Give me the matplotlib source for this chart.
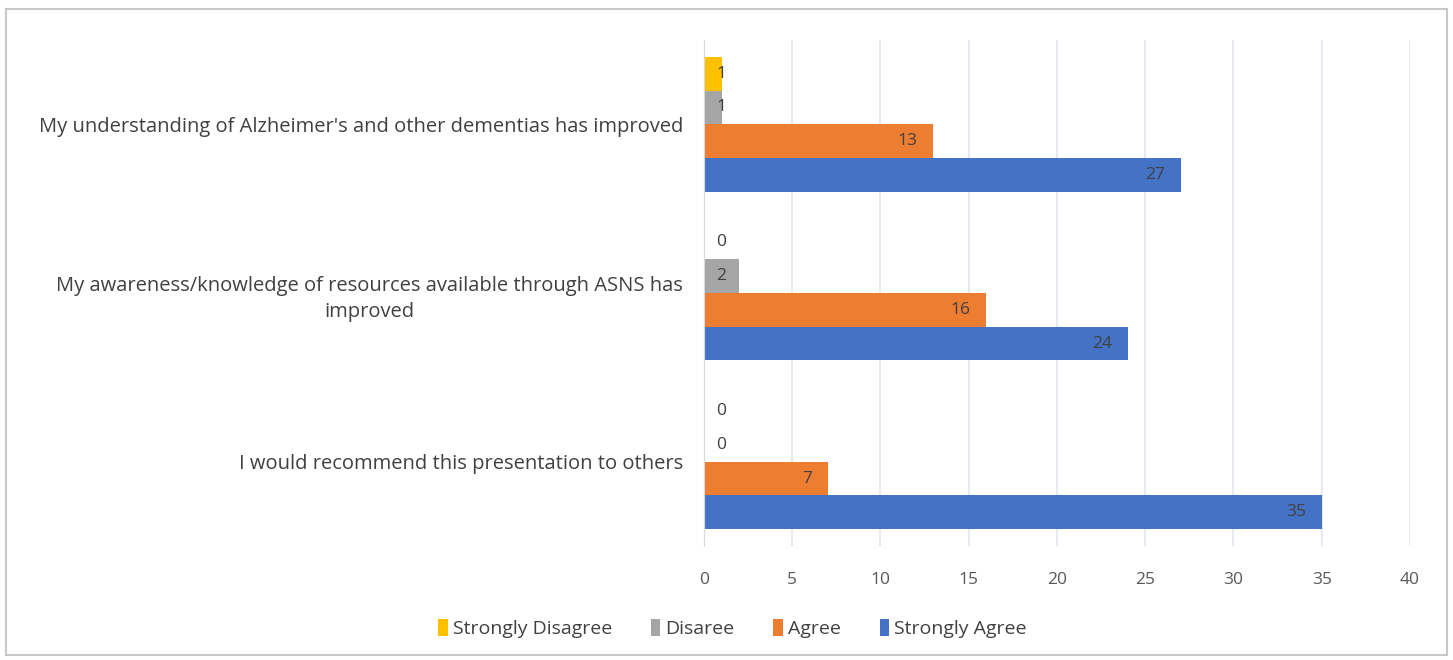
import numpy as np
import matplotlib.pyplot as plt
from matplotlib.patches import Rectangle

# survey statements, top to bottom
statements = [
    "My understanding of Alzheimer's and other dementias has improved",
    "My awareness/knowledge of resources available through ASNS has\nimproved",
    "I would recommend this presentation to others",
]
series_names = ["Strongly Disagree", "Disaree", "Agree", "Strongly Agree"]
strongly_disagree = [1, 0, 0]
disagree = [1, 2, 0]
agree = [13, 16, 7]
strongly_agree = [27, 24, 35]
colors = ["#FFC000", "#A5A5A5", "#ED7D31", "#4472C4"]
x_ticks = [0, 5, 10, 15, 20, 25, 30, 35, 40]

plt.rcParams['font.family'] = ['Open Sans', 'DejaVu Sans']

fig = plt.figure(figsize=(14.53, 6.6), dpi=100)
ax = fig.add_axes([0.4845, 0.1727, 0.4859, 0.7667])

all_series = [strongly_disagree, disagree, agree, strongly_agree]
bar_h = 0.2
centers = np.arange(len(statements))[::-1]  # first statement on top

for i, (name, vals, col) in enumerate(zip(series_names, all_series, colors)):
    ypos = centers + 0.3 - i * bar_h
    ax.barh(ypos, vals, height=bar_h, color=col, label=name, zorder=3)
    for y, v in zip(ypos, vals):
        if v < 3:
            ax.text(0.7, y, str(v), ha='left', va='center', fontsize=12.5,
                    color='#404040', zorder=4)
        else:
            ax.text(v - 0.9, y, str(v), ha='right', va='center', fontsize=12.5,
                    color='#404040', zorder=4)

ax.set_xlim(0, 40)
ax.set_ylim(-0.5, 2.5)
ax.set_xticks(x_ticks)
ax.set_xticklabels([str(t) for t in x_ticks])
ax.set_yticks(centers)
ax.set_yticklabels(statements, multialignment='center', linespacing=1.45)
ax.tick_params(axis='x', length=0, pad=19, labelsize=12.5, labelcolor='#595959')
ax.tick_params(axis='y', length=0, pad=15, labelsize=14.5, labelcolor='#404040')
ax.grid(axis='x', color='#E1E6EE', linewidth=1.2, zorder=0)
for s in ['top', 'right', 'bottom']:
    ax.spines[s].set_visible(False)
ax.spines['left'].set_color('#D9D9D9')
ax.spines['left'].set_zorder(5)

fig.legend(loc='center', bbox_to_anchor=(0.504, 0.048), ncol=4, frameon=False,
           fontsize=14, labelcolor='#404040', handlelength=0.5, handleheight=1.0,
           handletextpad=0.25, columnspacing=2.0)

fig.patches.append(Rectangle((0.004, 0.008), 0.992, 0.978, transform=fig.transFigure,
                             fill=False, edgecolor='#C8C8C8', linewidth=1.5))

fig.savefig('out.png', dpi=100)
